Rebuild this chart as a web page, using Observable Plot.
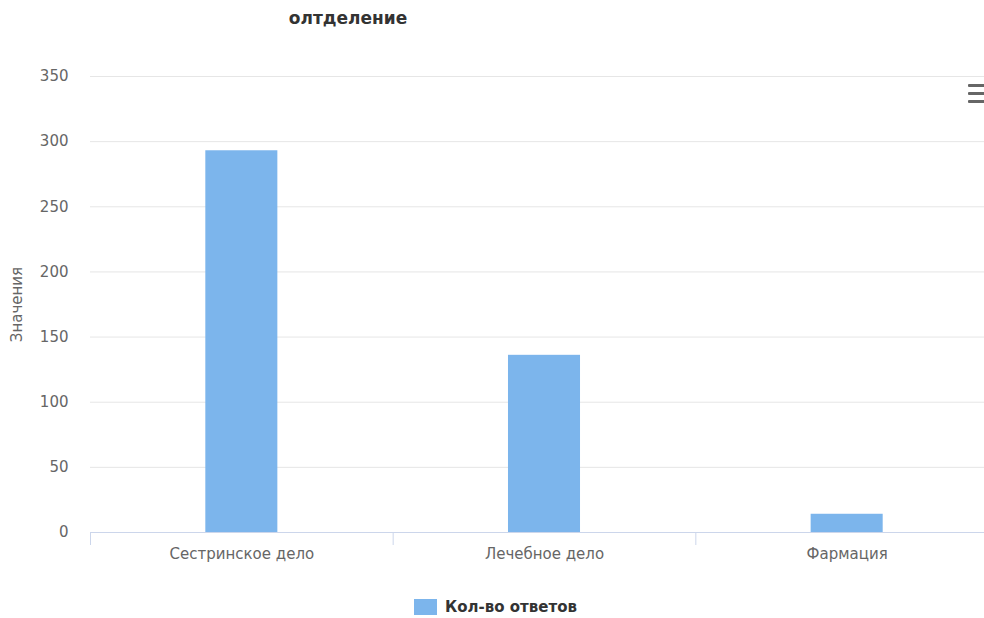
<!DOCTYPE html>
<html>
<head>
<meta charset="utf-8">
<script src="https://cdn.jsdelivr.net/npm/d3@7"></script>
<script src="https://cdn.jsdelivr.net/npm/@observablehq/plot@0.6"></script>
<style>
  html, body { margin: 0; padding: 0; background: #fff; overflow: hidden; }
  #wrap { position: relative; width: 984px; height: 618px; overflow: hidden; font-family: "DejaVu Sans", sans-serif; }
  #title { position: absolute; left: 0; width: 696px; top: 8px; text-align: center; font-weight: bold; font-size: 17px; color: #333; }
  #chart { position: absolute; left: 0; top: 0; }
  #chart svg { max-width: none !important; }
  #legend { position: absolute; top: 598px; left: 414px; display: flex; align-items: center; font-weight: bold; font-size: 15px; color: #333; }
  #legend .sw { width: 23px; height: 16px; background: #7cb5ec; margin-right: 8px; }
  #menu { position: absolute; left: 968px; top: 84px; width: 20px; }
  #menu div { height: 3px; background: #666; margin-bottom: 5px; border-radius: 1px; }
</style>
</head>
<body>
<div id="wrap">
  <div id="chart"></div>
  <div id="title">олтделение</div>
  <div id="menu"><div></div><div></div><div></div></div>
  <div id="legend"><div class="sw"></div><span>Кол-во ответов</span></div>
</div>
<script>
const categories = ["Сестринское дело", "Лечебное дело", "Фармация"];
const values = [293, 136, 14];
const seriesName = "Кол-во ответов";
const yTicks = [0, 50, 100, 150, 200, 250, 300, 350];

const data = categories.map((c, i) => ({category: c, index: i, value: values[i]}));
const half = 0.119;

const plot = Plot.plot({
  width: 998,
  height: 580,
  marginLeft: 90,
  marginRight: 0,
  marginTop: 76,
  marginBottom: 48,
  style: {fontFamily: "DejaVu Sans, sans-serif", fontSize: "15px", color: "#666", background: "transparent", maxWidth: "none"},
  x: {domain: [0, categories.length], type: "linear"},
  y: {domain: [0, 350]},
  marks: [
    Plot.gridY(yTicks, {stroke: "#e6e6e6", strokeOpacity: 1}),
    Plot.axisY(yTicks, {tickSize: 0, tickPadding: 22, label: null, fill: "#666", fontSize: 15}),
    Plot.text(["Значения"], {frameAnchor: "left", textAnchor: "middle", dx: -73, rotate: -90, fill: "#666", fontSize: 15}),
    Plot.rectY(data, {x1: d => d.index + 0.5 - half, x2: d => d.index + 0.5 + half, y1: 0, y2: "value", fill: "#7cb5ec"}),
    Plot.ruleY([0], {stroke: "#ccd6eb", strokeWidth: 1}),
    Plot.axisX(d3.range(categories.length + 1), {tickSize: 13, tickFormat: () => "", stroke: "#ccd6eb", label: null}),
    Plot.axisX(data.map(d => d.index + 0.5), {tickSize: 0, tickPadding: 16, tickFormat: v => categories[Math.round(v - 0.5)], fill: "#666", fontSize: 15, label: null})
  ]
});
document.getElementById("chart").appendChild(plot);
</script>
</body>
</html>
